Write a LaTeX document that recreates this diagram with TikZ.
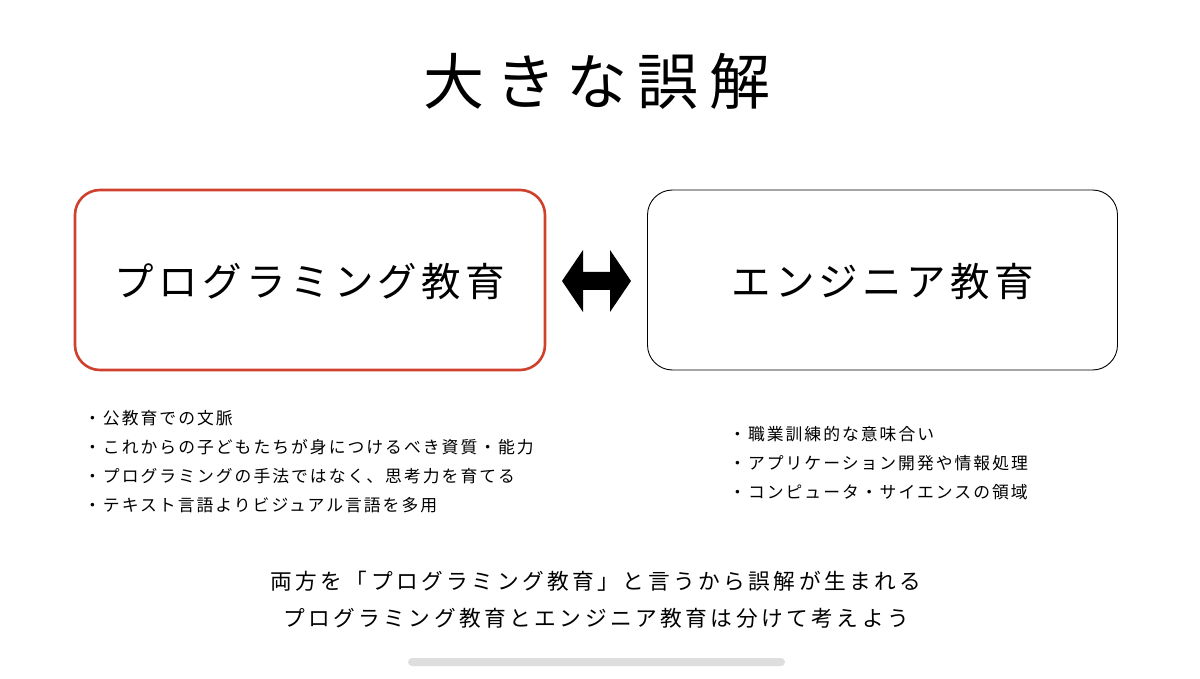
\documentclass[tikz,border=0pt]{standalone}
\usepackage{fontspec}
\usetikzlibrary{calc}
\setmainfont{Noto Sans CJK JP}
\definecolor{boxred}{HTML}{D0402E}
\definecolor{bargray}{HTML}{DEDEDE}
\tikzset{
  titletext/.style={font=\fontsize{61}{70}\selectfont\addfontfeature{LetterSpace=17}},
  boxtext/.style={font=\fontsize{39.5}{46}\selectfont\addfontfeature{LetterSpace=11}},
  bullettext/.style={font=\fontsize{16.8}{29}\selectfont\addfontfeature{LetterSpace=12}, align=left, anchor=north west, inner sep=0pt},
  bottomtext/.style={font=\fontsize{21.7}{37}\selectfont\addfontfeature{LetterSpace=16}, align=center},
  panel/.style={rounded corners=25pt, minimum width=470pt, minimum height=180pt},
}
\begin{document}
\begin{tikzpicture}[x=1pt,y=-1pt]
\fill[white] (0,0) rectangle (1200,679);
\useasboundingbox (0,0) rectangle (1200,679);
\node[titletext] (title) at (597,81) {大きな誤解};
\node[panel, draw=boxred, line width=2.6pt] (prog) at (310,280) {};
\node[boxtext] (progt) at (310,282) {プログラミング教育};
\node[panel, draw=black, line width=0.9pt] (eng) at (882.5,280) {};
\node[boxtext] (engt) at (882.5,282) {エンジニア教育};
\coordinate (ac) at (596.5,281);
\fill[black] ($(ac)+(-34.5,0)$) -- ++(21,-31) -- ++(0,22) -- ++(27,0) -- ++(0,-22) -- ++(21,31) -- ++(-21,31) -- ++(0,-22) -- ++(-27,0) -- ++(0,22) -- cycle;
\node[bullettext] (lb) at (84,410) {・公教育での文脈\\・これからの子どもたちが身につけるべき資質・能力\\・プログラミングの手法ではなく、思考力を育てる\\・テキスト言語よりビジュアル言語を多用};
\node[bullettext] (rb) at (729,426) {・職業訓練的な意味合い\\・アプリケーション開発や情報処理\\・コンピュータ・サイエンスの領域};
\node[bottomtext] (bot) at (596,600) {両方を「プログラミング教育」と言うから誤解が生まれる\\プログラミング教育とエンジニア教育は分けて考えよう};
\fill[bargray, rounded corners=4pt] (408,658) rectangle (785,666);
\end{tikzpicture}
\end{document}
